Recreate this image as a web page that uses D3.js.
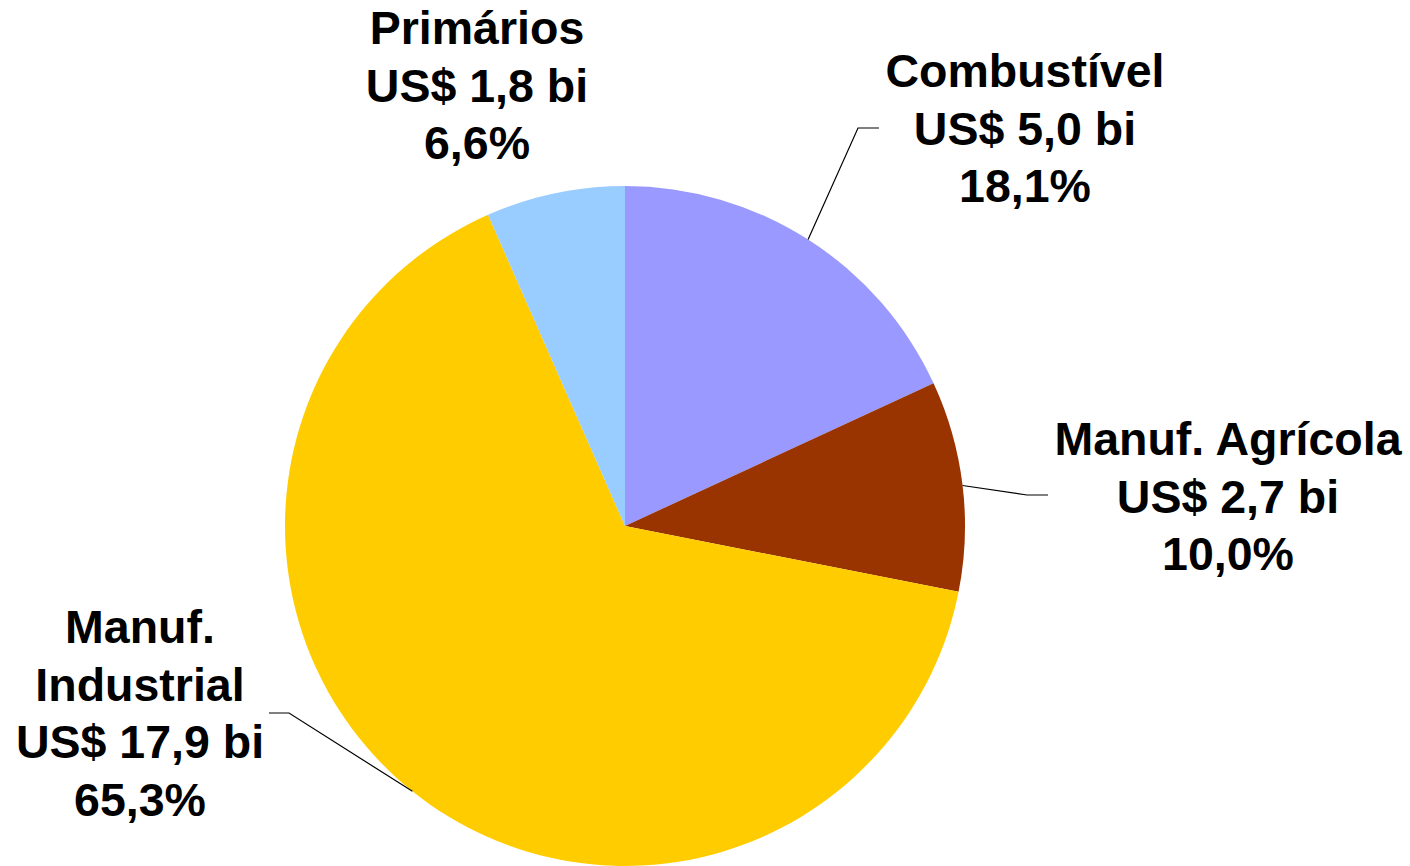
<!DOCTYPE html>
<html>
<head>
<meta charset="utf-8">
<script src="https://cdn.jsdelivr.net/npm/d3@7"></script>
<style>
  html, body { margin: 0; padding: 0; background: #fff; overflow: hidden; }
  svg text { font-family: "Liberation Sans", Arial, sans-serif; font-weight: bold; fill: #000; }
</style>
</head>
<body>
<div id="chart"></div>
<script>
const categories = ["Combustível", "Manuf. Agrícola", "Manuf. Industrial", "Primários"];
const values = [5.0, 2.7, 17.9, 1.8];            // US$ bi
const shares = [18.1, 10.0, 65.3, 6.6];          // %
const colors = ["#9999FF", "#993300", "#FFCC00", "#99CCFF"];

// label placement (text centre x, first baseline y, line breaks, leader elbow)
const labelLayout = [
  { x: 1025, y: 87, lines: ["Combustível"], elbow: [858, 128], end: [879, 128] },
  { x: 1228, y: 455, lines: ["Manuf. Agrícola"], elbow: [1027, 495], end: [1048, 495] },
  { x: 140, y: 643, lines: ["Manuf.", "Industrial"], elbow: [289, 713], end: [269, 713] },
  { x: 477, y: 44, lines: ["Primários"], elbow: null, end: null }
];

const W = 1410, H = 866;
const cx = 625, cy = 526, radius = 340;
const lineH = 57.5;

const svg = d3.select("#chart")
  .append("svg")
  .attr("width", W)
  .attr("height", H)
  .attr("viewBox", `0 0 ${W} ${H}`);

const data = categories.map((c, i) => ({ name: c, value: values[i], share: shares[i], color: colors[i], layout: labelLayout[i] }));

const pie = d3.pie().sort(null).value(d => d.share);
const arc = d3.arc().innerRadius(0).outerRadius(radius);
const arcs = pie(data);

const g = svg.append("g").attr("transform", `translate(${cx},${cy})`);

g.selectAll("path")
  .data(arcs)
  .enter()
  .append("path")
  .attr("d", arc)
  .attr("fill", d => d.data.color);

const fmt = v => v.toFixed(1).replace(".", ",");

// leader lines from slice mid-angle on the rim
arcs.forEach(a => {
  const L = a.data.layout;
  if (!L.elbow) return;
  const mid = (a.startAngle + a.endAngle) / 2;
  const px = cx + radius * Math.sin(mid), py = cy - radius * Math.cos(mid);
  svg.append("polyline")
    .attr("points", `${px},${py} ${L.elbow[0]},${L.elbow[1]} ${L.end[0]},${L.end[1]}`)
    .attr("fill", "none")
    .attr("stroke", "#000")
    .attr("stroke-width", 1.2);
});

arcs.forEach(a => {
  const d = a.data, L = d.layout;
  const lines = L.lines.concat([`US$ ${fmt(d.value)} bi`, `${fmt(d.share)}%`]);
  const t = svg.append("text")
    .attr("text-anchor", "middle")
    .attr("font-size", 46.5);
  lines.forEach((s, i) => {
    t.append("tspan")
      .attr("x", L.x)
      .attr("y", L.y + i * lineH)
      .text(s);
  });
});
</script>
</body>
</html>
